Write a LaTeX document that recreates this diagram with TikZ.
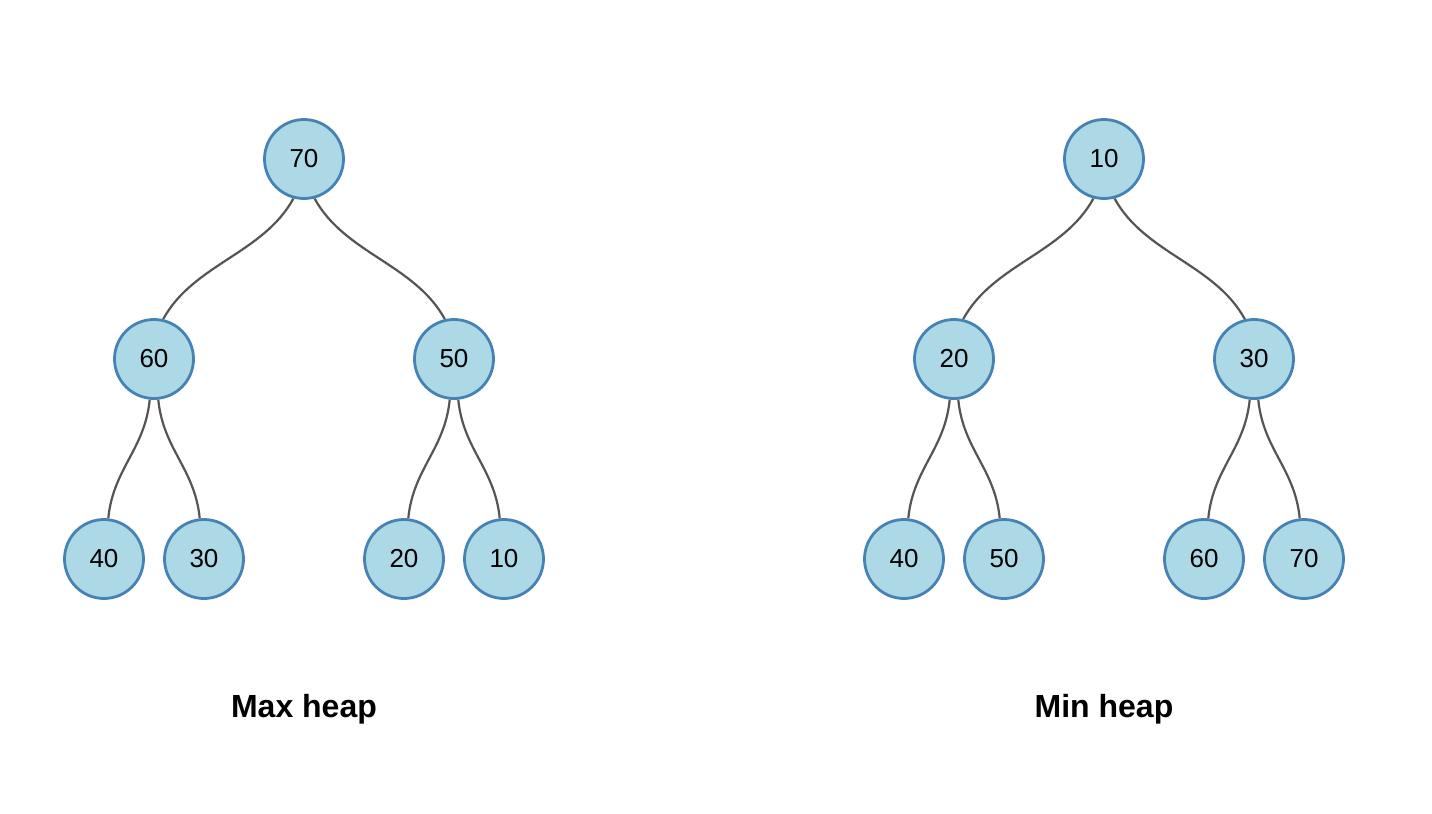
\documentclass[tikz,border=0pt]{standalone}
\usepackage{fontspec}
\setmainfont{Liberation Sans}
\usepackage{tikz}
\usetikzlibrary{positioning}

\definecolor{heapfill}{HTML}{ADD8E6}
\definecolor{heapline}{HTML}{4682B4}
\definecolor{edgegray}{HTML}{555555}

\begin{document}
\begin{tikzpicture}[x=0.5pt, y=-0.5pt,
    heapnode/.style={circle, draw=heapline, fill=heapfill, line width=1.4pt,
      minimum size=39.5pt, inner sep=0pt, font=\fontsize{13pt}{15pt}\selectfont},
    heapedge/.style={draw=edgegray, line width=1.1pt},
    heaptitle/.style={font=\fontsize{16pt}{19pt}\selectfont\bfseries}]
  \useasboundingbox (0,0) rectangle (1432,814);

  % max heap
  \node[heapnode] at (304,159) (max70) {70};
  \node[heapnode] at (154,359) (max60) {60};
  \node[heapnode] at (454,359) (max50) {50};
  \node[heapnode] at (104,559) (max40) {40};
  \node[heapnode] at (204,559) (max30) {30};
  \node[heapnode] at (404,559) (max20) {20};
  \node[heapnode] at (504,559) (max10) {10};

  \draw[heapedge] (max70.255) .. controls +(-30,55) and +(30,-55) .. (max60.77);
  \draw[heapedge] (max70.285) .. controls +(30,55) and +(-30,-55) .. (max50.103);
  \draw[heapedge] (max60.264) .. controls +(-5,50) and +(5,-50) .. (max40.84);
  \draw[heapedge] (max60.276) .. controls +(5,50) and +(-5,-50) .. (max30.96);
  \draw[heapedge] (max50.264) .. controls +(-5,50) and +(5,-50) .. (max20.84);
  \draw[heapedge] (max50.276) .. controls +(5,50) and +(-5,-50) .. (max10.96);

  \node[heaptitle] at (304,709) (maxlabel) {Max heap};

  % min heap
  \node[heapnode] at (1104,159) (min10) {10};
  \node[heapnode] at (954,359) (min20) {20};
  \node[heapnode] at (1254,359) (min30) {30};
  \node[heapnode] at (904,559) (min40) {40};
  \node[heapnode] at (1004,559) (min50) {50};
  \node[heapnode] at (1204,559) (min60) {60};
  \node[heapnode] at (1304,559) (min70) {70};

  \draw[heapedge] (min10.255) .. controls +(-30,55) and +(30,-55) .. (min20.77);
  \draw[heapedge] (min10.285) .. controls +(30,55) and +(-30,-55) .. (min30.103);
  \draw[heapedge] (min20.264) .. controls +(-5,50) and +(5,-50) .. (min40.84);
  \draw[heapedge] (min20.276) .. controls +(5,50) and +(-5,-50) .. (min50.96);
  \draw[heapedge] (min30.264) .. controls +(-5,50) and +(5,-50) .. (min60.84);
  \draw[heapedge] (min30.276) .. controls +(5,50) and +(-5,-50) .. (min70.96);

  \node[heaptitle] at (1104,709) (minlabel) {Min heap};
\end{tikzpicture}
\end{document}
